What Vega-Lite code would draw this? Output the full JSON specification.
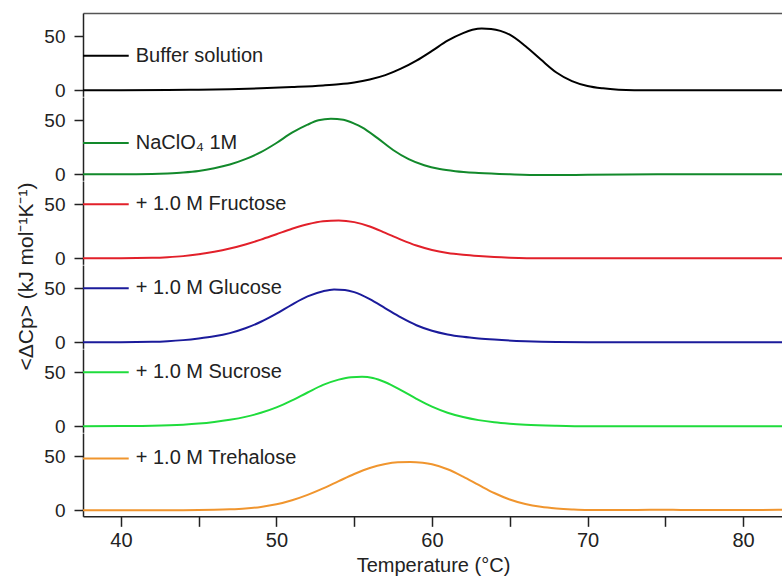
{
  "$schema": "https://vega.github.io/schema/vega-lite/v6.json",
  "background": "white",
  "padding": {"left": 15, "top": 13, "right": 0, "bottom": 0},
  "spacing": 0,
  "bounds": "flush",
  "config": {
    "view": {"stroke": null},
    "font": "Liberation Sans",
    "concat": {"spacing": 0},
    "axis": {
      "grid": false,
      "labelFont": "Liberation Sans",
      "labelFontSize": 19,
      "labelColor": "#222222",
      "titleFont": "Liberation Sans",
      "titleFontSize": 19,
      "titleFontWeight": "normal",
      "titleColor": "#222222",
      "domainColor": "#222222",
      "domainWidth": 1.5,
      "tickColor": "#222222",
      "tickWidth": 1.5
    }
  },
  "datasets": {
    "curves": [
      {"s": "Buffer solution", "T": 37.5, "cp": 0}, {"s": "Buffer solution", "T": 40, "cp": 0}, {"s": "Buffer solution", "T": 43, "cp": 0.2}, {"s": "Buffer solution", "T": 45, "cp": 0.5}, {"s": "Buffer solution", "T": 47, "cp": 1}, {"s": "Buffer solution", "T": 49, "cp": 1.8}, {"s": "Buffer solution", "T": 51, "cp": 3}, {"s": "Buffer solution", "T": 53, "cp": 4.5}, {"s": "Buffer solution", "T": 54, "cp": 5.6}, {"s": "Buffer solution", "T": 55, "cp": 7.3}, {"s": "Buffer solution", "T": 56, "cp": 10}, {"s": "Buffer solution", "T": 57, "cp": 14}, {"s": "Buffer solution", "T": 58, "cp": 20}, {"s": "Buffer solution", "T": 59, "cp": 27.5}, {"s": "Buffer solution", "T": 60, "cp": 36.5}, {"s": "Buffer solution", "T": 61, "cp": 46}, {"s": "Buffer solution", "T": 62, "cp": 53}, {"s": "Buffer solution", "T": 62.6, "cp": 56}, {"s": "Buffer solution", "T": 63.2, "cp": 57.3}, {"s": "Buffer solution", "T": 63.8, "cp": 56.8}, {"s": "Buffer solution", "T": 64.4, "cp": 55}, {"s": "Buffer solution", "T": 65, "cp": 51.5}, {"s": "Buffer solution", "T": 66, "cp": 41}, {"s": "Buffer solution", "T": 67, "cp": 28.5}, {"s": "Buffer solution", "T": 68, "cp": 16.5}, {"s": "Buffer solution", "T": 69, "cp": 8.5}, {"s": "Buffer solution", "T": 70, "cp": 4}, {"s": "Buffer solution", "T": 71, "cp": 1.8}, {"s": "Buffer solution", "T": 72, "cp": 0.6}, {"s": "Buffer solution", "T": 73, "cp": 0.1}, {"s": "Buffer solution", "T": 74, "cp": 0}, {"s": "Buffer solution", "T": 82.6, "cp": 0},

      {"s": "NaClO4", "T": 37.5, "cp": 0}, {"s": "NaClO4", "T": 40, "cp": 0}, {"s": "NaClO4", "T": 42, "cp": 0.3}, {"s": "NaClO4", "T": 43, "cp": 0.8}, {"s": "NaClO4", "T": 44, "cp": 1.6}, {"s": "NaClO4", "T": 45, "cp": 3}, {"s": "NaClO4", "T": 46, "cp": 5.5}, {"s": "NaClO4", "T": 47, "cp": 9}, {"s": "NaClO4", "T": 48, "cp": 14}, {"s": "NaClO4", "T": 49, "cp": 20.5}, {"s": "NaClO4", "T": 50, "cp": 29}, {"s": "NaClO4", "T": 51, "cp": 38.5}, {"s": "NaClO4", "T": 52, "cp": 46}, {"s": "NaClO4", "T": 52.7, "cp": 50}, {"s": "NaClO4", "T": 53.5, "cp": 51.5}, {"s": "NaClO4", "T": 54.3, "cp": 50.5}, {"s": "NaClO4", "T": 55, "cp": 47}, {"s": "NaClO4", "T": 55.5, "cp": 43.5}, {"s": "NaClO4", "T": 56.5, "cp": 33.5}, {"s": "NaClO4", "T": 57.5, "cp": 22.5}, {"s": "NaClO4", "T": 58.5, "cp": 14}, {"s": "NaClO4", "T": 59.5, "cp": 8.3}, {"s": "NaClO4", "T": 60.5, "cp": 4.8}, {"s": "NaClO4", "T": 61.5, "cp": 2.8}, {"s": "NaClO4", "T": 63, "cp": 1.2}, {"s": "NaClO4", "T": 65, "cp": 0}, {"s": "NaClO4", "T": 67, "cp": -0.7}, {"s": "NaClO4", "T": 70, "cp": -0.5}, {"s": "NaClO4", "T": 75, "cp": 0}, {"s": "NaClO4", "T": 82.6, "cp": 0},

      {"s": "Fructose", "T": 37.5, "cp": 0}, {"s": "Fructose", "T": 40, "cp": 0}, {"s": "Fructose", "T": 42, "cp": 0.4}, {"s": "Fructose", "T": 43, "cp": 1}, {"s": "Fructose", "T": 44, "cp": 2}, {"s": "Fructose", "T": 45, "cp": 3.7}, {"s": "Fructose", "T": 46, "cp": 6}, {"s": "Fructose", "T": 47, "cp": 9}, {"s": "Fructose", "T": 48, "cp": 12.8}, {"s": "Fructose", "T": 49, "cp": 17.3}, {"s": "Fructose", "T": 50, "cp": 22.3}, {"s": "Fructose", "T": 51, "cp": 27.3}, {"s": "Fructose", "T": 52, "cp": 31.5}, {"s": "Fructose", "T": 53, "cp": 34.3}, {"s": "Fructose", "T": 54, "cp": 35}, {"s": "Fructose", "T": 55, "cp": 33.5}, {"s": "Fructose", "T": 56, "cp": 29.5}, {"s": "Fructose", "T": 57, "cp": 23.5}, {"s": "Fructose", "T": 58, "cp": 17.3}, {"s": "Fructose", "T": 59, "cp": 11.8}, {"s": "Fructose", "T": 60, "cp": 7.7}, {"s": "Fructose", "T": 61, "cp": 5}, {"s": "Fructose", "T": 62, "cp": 3.3}, {"s": "Fructose", "T": 63, "cp": 2.1}, {"s": "Fructose", "T": 64, "cp": 1.2}, {"s": "Fructose", "T": 65, "cp": 0.6}, {"s": "Fructose", "T": 67, "cp": 0}, {"s": "Fructose", "T": 82.6, "cp": 0},

      {"s": "Glucose", "T": 37.5, "cp": 0}, {"s": "Glucose", "T": 40, "cp": 0}, {"s": "Glucose", "T": 42, "cp": 0.4}, {"s": "Glucose", "T": 43, "cp": 1}, {"s": "Glucose", "T": 44, "cp": 2}, {"s": "Glucose", "T": 45, "cp": 3.5}, {"s": "Glucose", "T": 46, "cp": 5.5}, {"s": "Glucose", "T": 47, "cp": 8.5}, {"s": "Glucose", "T": 48, "cp": 13}, {"s": "Glucose", "T": 49, "cp": 19}, {"s": "Glucose", "T": 50, "cp": 26.5}, {"s": "Glucose", "T": 51, "cp": 35}, {"s": "Glucose", "T": 52, "cp": 42.5}, {"s": "Glucose", "T": 53, "cp": 47.3}, {"s": "Glucose", "T": 53.7, "cp": 48.9}, {"s": "Glucose", "T": 54.4, "cp": 48.5}, {"s": "Glucose", "T": 55, "cp": 46.5}, {"s": "Glucose", "T": 56, "cp": 40}, {"s": "Glucose", "T": 57, "cp": 31.5}, {"s": "Glucose", "T": 58, "cp": 23}, {"s": "Glucose", "T": 59, "cp": 15.8}, {"s": "Glucose", "T": 60, "cp": 10.7}, {"s": "Glucose", "T": 61, "cp": 7.3}, {"s": "Glucose", "T": 62, "cp": 5.1}, {"s": "Glucose", "T": 63, "cp": 3.6}, {"s": "Glucose", "T": 64, "cp": 2.5}, {"s": "Glucose", "T": 66, "cp": 1}, {"s": "Glucose", "T": 68, "cp": 0.2}, {"s": "Glucose", "T": 70, "cp": 0}, {"s": "Glucose", "T": 82.6, "cp": 0},

      {"s": "Sucrose", "T": 37.5, "cp": 0}, {"s": "Sucrose", "T": 40, "cp": 0.2}, {"s": "Sucrose", "T": 42, "cp": 0.5}, {"s": "Sucrose", "T": 44, "cp": 1.5}, {"s": "Sucrose", "T": 45, "cp": 2.5}, {"s": "Sucrose", "T": 46, "cp": 4}, {"s": "Sucrose", "T": 47, "cp": 6}, {"s": "Sucrose", "T": 48, "cp": 8.7}, {"s": "Sucrose", "T": 49, "cp": 12.5}, {"s": "Sucrose", "T": 50, "cp": 17.5}, {"s": "Sucrose", "T": 51, "cp": 24}, {"s": "Sucrose", "T": 52, "cp": 31.3}, {"s": "Sucrose", "T": 53, "cp": 38.3}, {"s": "Sucrose", "T": 54, "cp": 43.2}, {"s": "Sucrose", "T": 54.8, "cp": 45.5}, {"s": "Sucrose", "T": 55.5, "cp": 45.9}, {"s": "Sucrose", "T": 56.2, "cp": 44.8}, {"s": "Sucrose", "T": 57, "cp": 40.8}, {"s": "Sucrose", "T": 58, "cp": 33.5}, {"s": "Sucrose", "T": 59, "cp": 25.5}, {"s": "Sucrose", "T": 60, "cp": 18.2}, {"s": "Sucrose", "T": 61, "cp": 12.6}, {"s": "Sucrose", "T": 62, "cp": 8.6}, {"s": "Sucrose", "T": 63, "cp": 5.7}, {"s": "Sucrose", "T": 64, "cp": 3.7}, {"s": "Sucrose", "T": 65, "cp": 2.4}, {"s": "Sucrose", "T": 66, "cp": 1.5}, {"s": "Sucrose", "T": 68, "cp": 0.5}, {"s": "Sucrose", "T": 70, "cp": 0}, {"s": "Sucrose", "T": 82.6, "cp": 0},

      {"s": "Trehalose", "T": 37.5, "cp": 0}, {"s": "Trehalose", "T": 44, "cp": 0}, {"s": "Trehalose", "T": 46, "cp": 0.4}, {"s": "Trehalose", "T": 47, "cp": 0.9}, {"s": "Trehalose", "T": 48, "cp": 1.7}, {"s": "Trehalose", "T": 49, "cp": 3.1}, {"s": "Trehalose", "T": 50, "cp": 5.5}, {"s": "Trehalose", "T": 51, "cp": 9.3}, {"s": "Trehalose", "T": 52, "cp": 14.3}, {"s": "Trehalose", "T": 53, "cp": 20.3}, {"s": "Trehalose", "T": 54, "cp": 27}, {"s": "Trehalose", "T": 55, "cp": 33.6}, {"s": "Trehalose", "T": 56, "cp": 39.2}, {"s": "Trehalose", "T": 57, "cp": 42.8}, {"s": "Trehalose", "T": 57.8, "cp": 44.4}, {"s": "Trehalose", "T": 58.6, "cp": 44.8}, {"s": "Trehalose", "T": 59.4, "cp": 44}, {"s": "Trehalose", "T": 60, "cp": 42.6}, {"s": "Trehalose", "T": 61, "cp": 38}, {"s": "Trehalose", "T": 62, "cp": 31.2}, {"s": "Trehalose", "T": 63, "cp": 23.5}, {"s": "Trehalose", "T": 64, "cp": 16}, {"s": "Trehalose", "T": 65, "cp": 10}, {"s": "Trehalose", "T": 66, "cp": 5.8}, {"s": "Trehalose", "T": 67, "cp": 3.2}, {"s": "Trehalose", "T": 68, "cp": 1.7}, {"s": "Trehalose", "T": 69, "cp": 0.8}, {"s": "Trehalose", "T": 70, "cp": 0.3}, {"s": "Trehalose", "T": 73, "cp": 0.3}, {"s": "Trehalose", "T": 75, "cp": 0.6}, {"s": "Trehalose", "T": 76, "cp": 0.3}, {"s": "Trehalose", "T": 82.6, "cp": 0.4}
    ],
    "legend": [
      {"s": "Buffer solution", "label": "Buffer solution"},
      {"s": "NaClO4", "label": "NaClO₄ 1M"},
      {"s": "Fructose", "label": "+ 1.0 M Fructose"},
      {"s": "Glucose", "label": "+ 1.0 M Glucose"},
      {"s": "Sucrose", "label": "+ 1.0 M Sucrose"},
      {"s": "Trehalose", "label": "+ 1.0 M Trehalose"}
    ]
  },
  "vconcat": [
    {
      "width": 700, "height": 83.33,
      "layer": [
        {
          "data": {"name": "curves"},
          "transform": [{"filter": "datum.s === 'Buffer solution'"}],
          "mark": {"type": "line", "color": "#000000", "strokeWidth": 2, "interpolate": "monotone", "clip": true},
          "encoding": {
            "x": {"field": "T", "type": "quantitative", "scale": {"domain": [37.56, 82.57], "nice": false, "zero": false}, "axis": {"orient": "top", "labels": false, "ticks": false, "title": null, "domainColor": "#555555"}},
            "y": {"field": "cp", "type": "quantitative", "scale": {"domain": [-5.6, 71.6], "nice": false, "zero": false}, "axis": {"values": [0, 50], "tickSize": 9, "labelPadding": 9, "title": null}}
          }
        },
        {
          "data": {"name": "legend"},
          "transform": [{"filter": "datum.s === 'Buffer solution'"}],
          "mark": {"type": "rule", "color": "#000000", "strokeWidth": 2},
          "encoding": {"x": {"datum": 37.56}, "x2": {"datum": 40.5}, "y": {"datum": 32}}
        },
        {
          "data": {"name": "legend"},
          "transform": [{"filter": "datum.s === 'Buffer solution'"}],
          "mark": {"type": "text", "align": "left", "baseline": "middle", "fontSize": 20, "font": "Liberation Sans", "color": "#222222"},
          "encoding": {"x": {"datum": 40.95}, "y": {"datum": 32}, "text": {"field": "label"}}
        }
      ]
    },
    {
      "width": 700, "height": 83.33,
      "layer": [
        {
          "data": {"name": "curves"},
          "transform": [{"filter": "datum.s === 'NaClO4'"}],
          "mark": {"type": "line", "color": "#12892b", "strokeWidth": 2, "interpolate": "monotone", "clip": true},
          "encoding": {
            "x": {"field": "T", "type": "quantitative", "scale": {"domain": [37.56, 82.57], "nice": false, "zero": false}, "axis": null},
            "y": {"field": "cp", "type": "quantitative", "scale": {"domain": [-5.6, 71.6], "nice": false, "zero": false}, "axis": {"values": [0, 50], "tickSize": 9, "labelPadding": 9, "title": null}}
          }
        },
        {
          "data": {"name": "legend"},
          "transform": [{"filter": "datum.s === 'NaClO4'"}],
          "mark": {"type": "rule", "color": "#12892b", "strokeWidth": 2},
          "encoding": {"x": {"datum": 37.56}, "x2": {"datum": 40.5}, "y": {"datum": 29}}
        },
        {
          "data": {"name": "legend"},
          "transform": [{"filter": "datum.s === 'NaClO4'"}],
          "mark": {"type": "text", "align": "left", "baseline": "middle", "fontSize": 20, "font": "Liberation Sans", "color": "#222222"},
          "encoding": {"x": {"datum": 40.95}, "y": {"datum": 29}, "text": {"field": "label"}}
        }
      ]
    },
    {
      "width": 700, "height": 83.33,
      "layer": [
        {
          "data": {"name": "curves"},
          "transform": [{"filter": "datum.s === 'Fructose'"}],
          "mark": {"type": "line", "color": "#e2202a", "strokeWidth": 2, "interpolate": "monotone", "clip": true},
          "encoding": {
            "x": {"field": "T", "type": "quantitative", "scale": {"domain": [37.56, 82.57], "nice": false, "zero": false}, "axis": null},
            "y": {"field": "cp", "type": "quantitative", "scale": {"domain": [-5.6, 71.6], "nice": false, "zero": false}, "axis": {"values": [0, 50], "tickSize": 9, "labelPadding": 9, "title": null}}
          }
        },
        {
          "data": {"name": "legend"},
          "transform": [{"filter": "datum.s === 'Fructose'"}],
          "mark": {"type": "rule", "color": "#e2202a", "strokeWidth": 2},
          "encoding": {"x": {"datum": 37.56}, "x2": {"datum": 40.5}, "y": {"datum": 50}}
        },
        {
          "data": {"name": "legend"},
          "transform": [{"filter": "datum.s === 'Fructose'"}],
          "mark": {"type": "text", "align": "left", "baseline": "middle", "fontSize": 20, "font": "Liberation Sans", "color": "#222222"},
          "encoding": {"x": {"datum": 40.95}, "y": {"datum": 50}, "text": {"field": "label"}}
        }
      ]
    },
    {
      "width": 700, "height": 83.33,
      "layer": [
        {
          "data": {"name": "curves"},
          "transform": [{"filter": "datum.s === 'Glucose'"}],
          "mark": {"type": "line", "color": "#1b1b9b", "strokeWidth": 2, "interpolate": "monotone", "clip": true},
          "encoding": {
            "x": {"field": "T", "type": "quantitative", "scale": {"domain": [37.56, 82.57], "nice": false, "zero": false}, "axis": null},
            "y": {"field": "cp", "type": "quantitative", "scale": {"domain": [-5.6, 71.6], "nice": false, "zero": false}, "axis": {"values": [0, 50], "tickSize": 9, "labelPadding": 9, "title": "<ΔCp> (kJ mol⁻¹K⁻¹)", "titleFontSize": 21, "titleAngle": 270, "titleBaseline": "middle", "titleAlign": "center", "titleX": -57, "titleY": 11}}
          }
        },
        {
          "data": {"name": "legend"},
          "transform": [{"filter": "datum.s === 'Glucose'"}],
          "mark": {"type": "rule", "color": "#1b1b9b", "strokeWidth": 2},
          "encoding": {"x": {"datum": 37.56}, "x2": {"datum": 40.5}, "y": {"datum": 50}}
        },
        {
          "data": {"name": "legend"},
          "transform": [{"filter": "datum.s === 'Glucose'"}],
          "mark": {"type": "text", "align": "left", "baseline": "middle", "fontSize": 20, "font": "Liberation Sans", "color": "#222222"},
          "encoding": {"x": {"datum": 40.95}, "y": {"datum": 50}, "text": {"field": "label"}}
        }
      ]
    },
    {
      "width": 700, "height": 83.33,
      "layer": [
        {
          "data": {"name": "curves"},
          "transform": [{"filter": "datum.s === 'Sucrose'"}],
          "mark": {"type": "line", "color": "#1fdc3c", "strokeWidth": 2, "interpolate": "monotone", "clip": true},
          "encoding": {
            "x": {"field": "T", "type": "quantitative", "scale": {"domain": [37.56, 82.57], "nice": false, "zero": false}, "axis": null},
            "y": {"field": "cp", "type": "quantitative", "scale": {"domain": [-5.6, 71.6], "nice": false, "zero": false}, "axis": {"values": [0, 50], "tickSize": 9, "labelPadding": 9, "title": null}}
          }
        },
        {
          "data": {"name": "legend"},
          "transform": [{"filter": "datum.s === 'Sucrose'"}],
          "mark": {"type": "rule", "color": "#1fdc3c", "strokeWidth": 2},
          "encoding": {"x": {"datum": 37.56}, "x2": {"datum": 40.5}, "y": {"datum": 50}}
        },
        {
          "data": {"name": "legend"},
          "transform": [{"filter": "datum.s === 'Sucrose'"}],
          "mark": {"type": "text", "align": "left", "baseline": "middle", "fontSize": 20, "font": "Liberation Sans", "color": "#222222"},
          "encoding": {"x": {"datum": 40.95}, "y": {"datum": 50}, "text": {"field": "label"}}
        }
      ]
    },
    {
      "width": 700, "height": 83.33,
      "layer": [
        {
          "data": {"name": "curves"},
          "transform": [{"filter": "datum.s === 'Trehalose'"}],
          "mark": {"type": "line", "color": "#f0952e", "strokeWidth": 2, "interpolate": "monotone", "clip": true},
          "encoding": {
            "x": {"field": "T", "type": "quantitative", "scale": {"domain": [37.56, 82.57], "nice": false, "zero": false}, "axis": {"orient": "bottom", "values": [40, 45, 50, 55, 60, 65, 70, 75, 80], "labelExpr": "datum.value % 10 === 0 ? datum.label : ''", "tickSize": 10, "labelPadding": 4, "labelFontSize": 20, "title": "Temperature (°C)", "titleFontSize": 20, "titlePadding": 5, "encode": {"ticks": {"enter": {"y2": {"signal": "datum.value % 10 === 0 ? 10 : 5"}}, "update": {"y2": {"signal": "datum.value % 10 === 0 ? 10 : 5"}}}}}},
            "y": {"field": "cp", "type": "quantitative", "scale": {"domain": [-5.6, 71.6], "nice": false, "zero": false}, "axis": {"values": [0, 50], "tickSize": 9, "labelPadding": 9, "title": null}}
          }
        },
        {
          "data": {"name": "legend"},
          "transform": [{"filter": "datum.s === 'Trehalose'"}],
          "mark": {"type": "rule", "color": "#f0952e", "strokeWidth": 2},
          "encoding": {"x": {"datum": 37.56}, "x2": {"datum": 40.5}, "y": {"datum": 48}}
        },
        {
          "data": {"name": "legend"},
          "transform": [{"filter": "datum.s === 'Trehalose'"}],
          "mark": {"type": "text", "align": "left", "baseline": "middle", "fontSize": 20, "font": "Liberation Sans", "color": "#222222"},
          "encoding": {"x": {"datum": 40.95}, "y": {"datum": 48}, "text": {"field": "label"}}
        }
      ]
    }
  ]
}
